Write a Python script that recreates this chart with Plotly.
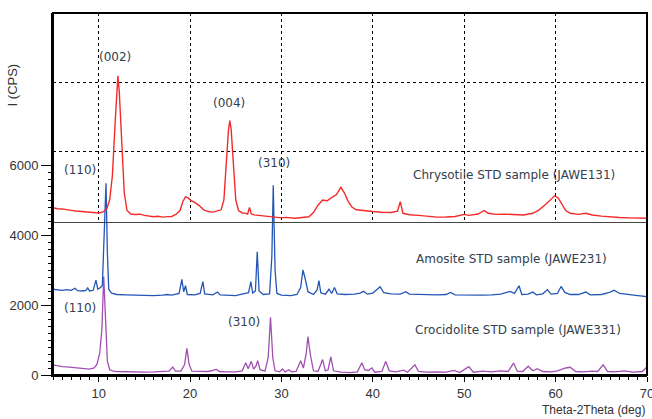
import plotly.graph_objects as go

# ---------------- data ----------------
chrysotile_x = [5.0, 5.5, 6.0, 6.5, 7.0, 7.5, 8.0, 8.5, 9.0, 9.5, 10.0, 10.5, 10.9, 11.2, 11.5, 11.8, 12.0, 12.1,
                12.25, 12.5, 12.8, 13.1, 13.5, 14.0, 14.5, 15.0, 15.5, 16.0, 16.5, 17.0, 17.5, 18.0, 18.5, 18.9,
                19.2, 19.5, 19.8, 20.1, 20.5, 21.0, 21.5, 22.0, 22.5, 23.0, 23.4, 23.7, 23.95, 24.2, 24.35, 24.5,
                24.75, 25.0, 25.3, 25.7, 26.0, 26.3, 26.5, 26.7, 27.0, 27.5, 28.0, 28.5, 29.0, 29.5, 30.0, 30.5,
                31.0, 31.5, 32.0, 32.5, 33.0, 33.5, 34.0, 34.5, 35.0, 35.6, 36.0, 36.5, 36.9, 37.3, 37.7, 38.2,
                39.0, 40.0, 41.0, 42.0, 42.7, 43.0, 43.3, 44.0, 45.0, 46.0, 47.0, 48.0, 49.0, 50.0, 50.5, 51.5,
                52.2, 52.6, 53.5, 54.5, 55.5, 56.5, 57.5, 58.2, 58.8, 59.4, 59.9, 60.3, 60.7, 61.1, 61.6, 62.5,
                63.3, 64.0, 65.0, 66.0, 67.0, 68.0, 69.0, 70.0]
chrysotile_y = [4780, 4750, 4745, 4715, 4705, 4685, 4675, 4655, 4650, 4635, 4630, 4660, 4760, 5000, 5700, 7200, 8200, 8550,
                8100, 6600, 5200, 4700, 4600, 4585, 4595, 4560, 4545, 4520, 4535, 4510, 4525, 4530, 4600, 4700,
                4950, 5090, 5060, 4980, 4930, 4840, 4720, 4670, 4655, 4680, 4720, 5000, 6000, 7000, 7270, 7000,
                6000, 5000, 4700, 4630, 4625, 4600, 4790, 4600, 4575, 4560, 4545, 4530, 4515, 4500, 4490, 4505,
                4490, 4480, 4495, 4500, 4520, 4640, 4850, 5000, 4980, 5090, 5150, 5360, 5200, 4960, 4800, 4720,
                4690, 4670, 4650, 4645, 4680, 4950, 4620, 4580, 4560, 4530, 4510, 4515, 4530, 4590, 4560, 4600,
                4700, 4620, 4590, 4595, 4580, 4570, 4620, 4720, 4850, 5000, 5120, 5050, 4860, 4700, 4620, 4590,
                4620, 4570, 4540, 4510, 4500, 4490, 4495, 4480]

amosite_x = [5.0, 5.5, 6.0, 6.5, 7.0, 7.4, 7.7, 8.2, 8.6, 8.8, 9.0, 9.4, 9.7, 9.9, 10.2, 10.4, 10.6, 10.8, 10.95,
             11.1, 11.4, 12.0, 13.0, 14.0, 15.0, 16.0, 17.0, 17.5, 18.0, 18.8, 19.1, 19.3, 19.5, 19.7, 20.5, 21.1,
             21.4, 21.6, 22.5, 23.0, 23.3, 24.0, 25.0, 25.8, 26.4, 26.65, 26.85, 27.15, 27.35, 27.55, 28.0, 28.7,
             28.95, 29.1, 29.3, 29.5, 30.0, 31.0, 31.7, 32.1, 32.35, 32.6, 32.9, 33.5, 33.9, 34.1, 34.3, 34.8,
             35.2, 35.5, 35.8, 36.1, 37.0, 38.0, 38.6, 39.0, 39.4, 40.0, 40.5, 40.8, 41.2, 42.0, 43.0, 43.6, 44.0,
             45.0, 46.0, 47.0, 48.0, 48.5, 49.0, 50.0, 51.0, 52.0, 53.0, 54.0, 55.0, 55.5, 56.0, 56.3, 57.0, 57.5,
             57.9, 58.6, 59.1, 59.5, 60.2, 60.6, 61.0, 61.6, 62.5, 63.3, 63.8, 65.0, 65.8, 66.4, 67.0, 68.0, 69.0,
             70.0]
amosite_y = [2450, 2430, 2420, 2440, 2420, 2480, 2410, 2400, 2420, 2490, 2400, 2420, 2710, 2450, 2500, 2560, 3800, 5480, 3500,
             2450, 2340, 2300, 2290, 2280, 2290, 2270, 2280, 2300, 2280, 2330, 2730, 2380, 2550, 2300, 2290, 2330,
             2670, 2320, 2290, 2370, 2290, 2280, 2270, 2320, 2350, 2670, 2340, 2400, 3520, 2400, 2300, 2320,
             3400, 5420, 3000, 2330, 2280, 2270, 2300, 2500, 3000, 2750, 2380, 2300, 2430, 2700, 2350, 2310,
             2450, 2330, 2500, 2320, 2300, 2310, 2340, 2390, 2310, 2340, 2450, 2520, 2350, 2320, 2310, 2380, 2310,
             2300, 2300, 2290, 2300, 2360, 2290, 2280, 2290, 2280, 2290, 2310, 2390, 2330, 2550, 2300, 2310, 2370,
             2290, 2320, 2440, 2310, 2330, 2530, 2360, 2300, 2300, 2370, 2290, 2300, 2350, 2420, 2330, 2290, 2270,
             2240]

crocidolite_x = [5.0, 5.5, 6.0, 6.5, 7.0, 7.5, 8.0, 8.5, 9.0, 9.5, 9.8, 10.1, 10.35, 10.55, 10.75, 10.95, 11.2, 11.6,
                 12.0, 13.0, 14.0, 15.0, 16.0, 17.0, 17.7, 18.1, 18.4, 19.0, 19.4, 19.65, 19.9, 20.2, 21.0, 22.0,
                 22.9, 23.2, 24.0, 25.0, 25.7, 26.1, 26.35, 26.7, 26.95, 27.2, 27.4, 27.65, 28.2, 28.55, 28.8, 29.05,
                 29.3, 29.8, 30.1, 30.4, 30.8, 31.1, 31.6, 32.1, 32.4, 32.7, 32.9, 33.15, 33.5, 34.0, 34.5, 34.8,
                 35.1, 35.4, 35.7, 36.5, 37.5, 38.3, 38.8, 39.1, 39.5, 39.9, 40.2, 41.0, 41.4, 41.8, 42.5, 43.4,
                 43.8, 44.6, 45.0, 46.0, 47.0, 48.0, 48.9, 49.5, 50.5, 51.0, 52.0, 53.0, 54.0, 54.8, 55.4, 55.8,
                 56.4, 57.0, 57.5, 58.0, 58.6, 59.5, 60.2, 61.1, 61.6, 62.2, 63.0, 64.0, 64.6, 65.2, 65.7, 66.5,
                 67.5, 68.5, 69.5, 70.0]
crocidolite_y = [290, 260, 240, 230, 220, 210, 190, 180, 170, 200, 300, 600, 1300, 2810, 1500, 400, 150, 110,
                 100, 90, 95, 85, 90, 90, 110, 230, 110, 110, 300, 760, 300, 110, 100, 100,
                 160, 100, 90, 90, 120, 350, 180, 390, 170, 250, 410, 150, 110, 500, 1650, 500,
                 120, 90, 170, 90, 150, 90, 100, 410, 200, 600, 1100, 600, 120, 100, 440, 120,
                 150, 520, 120, 80, 70, 90, 350, 150, 130, 200, 80, 100, 390, 120, 90, 140,
                 80, 290, 100, 80, 90, 80, 130, 70, 240, 80, 110, 90, 120, 100, 340, 110,
                 100, 250, 120, 180, 100, 90, 120, 200, 220, 100, 90, 110, 100, 290, 100, 90,
                 120, 80, 100, 240]

y_ticks = [0, 2000, 4000, 6000]
y_minor_ticks = [v for v in range(0, 6001, 200) if v % 2000 != 0]
x_ticks = [10, 20, 30, 40, 50, 60, 70]
upper_grid_x = [10, 20, 30, 40, 50, 60]
upper_grid_y = [6400, 8371]
y_full_range = [0, 10343]
upper_range = [4371, 10343]

# label texts and anchor positions (data coordinates)
peak_labels = ["(002)", "(004)", "(110)", "(310)", "(110)", "(310)"]
peak_label_x = [11.8, 24.3, 8.0, 29.2, 8.0, 25.9]
peak_label_y = [9085, 7771, 5857, 6057, 1914, 1514]
sample_labels = ["Chrysotile STD sample (JAWE131)", "Amosite STD sample (JAWE231)",
                 "Crocidolite STD sample (JAWE331)"]
sample_label_x = [44.2, 44.5, 44.4]
sample_label_y = [5714, 3314, 1286]

# ---------------- figure ----------------
fig = go.Figure()
fig.add_trace(go.Scatter(x=crocidolite_x, y=crocidolite_y, mode="lines",
                         line=dict(color="#a24fb2", width=1.3), xaxis="x", yaxis="y",
                         name="Crocidolite"))
fig.add_trace(go.Scatter(x=amosite_x, y=amosite_y, mode="lines",
                         line=dict(color="#2456b6", width=1.3), xaxis="x", yaxis="y",
                         name="Amosite"))
fig.add_trace(go.Scatter(x=chrysotile_x, y=chrysotile_y, mode="lines",
                         line=dict(color="#f42a2a", width=1.4), xaxis="x2", yaxis="y2",
                         name="Chrysotile"))

tick_font = dict(family="Liberation Sans, Arial, sans-serif", size=13, color="#333333")
grid_style = dict(showgrid=True, gridcolor="#000000", gridwidth=1, griddash="3px,3px")

fig.update_layout(
    width=652, height=419,
    margin=dict(l=53, r=5, t=13, b=44, autoexpand=False),
    paper_bgcolor="white", plot_bgcolor="rgba(0,0,0,0)",
    showlegend=False,
    xaxis=dict(domain=[0, 1], range=[5, 70], tickvals=x_ticks, ticks="outside", ticklen=5,
               tickcolor="black", tickwidth=1, showline=True, linecolor="black", linewidth=2,
               showgrid=False, zeroline=False, tickfont=tick_font, ticklabeloverflow="allow",
               automargin=False,
               minor=dict(ticks="outside", dtick=1, tick0=5, ticklen=3, tickcolor="black")),
    yaxis=dict(domain=[0, 1], range=y_full_range, tickvals=y_ticks, ticks="outside", ticklen=10,
               tickcolor="black", tickwidth=1, showline=True, linecolor="black", linewidth=2,
               showgrid=False, zeroline=False, tickfont=tick_font, ticklabeloverflow="allow",
               automargin=False,
               minor=dict(ticks="outside", tickmode="array", tickvals=y_minor_ticks,
                          ticklen=3, tickcolor="black")),
    xaxis2=dict(anchor="y2", domain=[0, 1], range=[5, 70], tickvals=upper_grid_x,
                showticklabels=False, ticks="", showline=True, linecolor="#444444", linewidth=1,
                zeroline=False, automargin=False, **grid_style),
    yaxis2=dict(anchor="x2", domain=[(upper_range[0] - y_full_range[0]) / (y_full_range[1] - y_full_range[0]), 1],
                range=upper_range, tickvals=upper_grid_y, showticklabels=False, ticks="",
                showline=False, zeroline=False, automargin=False, **grid_style),
)

# plot frame (top and right edges)
fig.add_shape(type="rect", xref="paper", yref="paper", x0=0, y0=0, x1=1, y1=1,
              line=dict(color="black", width=2), fillcolor="rgba(0,0,0,0)", layer="above")

label_font = dict(family="DejaVu Sans, Verdana, sans-serif", size=12, color="#34404e")
for t, x, y in zip(peak_labels, peak_label_x, peak_label_y):
    fig.add_annotation(x=x, y=y, xref="x", yref="y", text=t, showarrow=False,
                       xanchor="center", yanchor="middle", font=label_font)
for t, x, y in zip(sample_labels, sample_label_x, sample_label_y):
    fig.add_annotation(x=x, y=y, xref="x", yref="y", text=t, showarrow=False,
                       xanchor="left", yanchor="middle", font=label_font)

fig.add_annotation(x=-0.069, y=0.80, xref="paper", yref="paper", text="I (CPS)", textangle=-90,
                   showarrow=False, xanchor="center", yanchor="middle",
                   font=dict(family="Liberation Sans, Arial, sans-serif", size=13, color="#333333"))
fig.add_annotation(x=1.0, y=-0.097, xref="paper", yref="paper", text="Theta-2Theta (deg)",
                   showarrow=False, xanchor="right", yanchor="middle",
                   font=dict(family="Liberation Sans, Arial, sans-serif", size=12, color="#333333"))

fig.write_html("out.html", config={"displayModeBar": False},
               post_script="document.body.style.margin='0';document.body.style.overflow='hidden';")
